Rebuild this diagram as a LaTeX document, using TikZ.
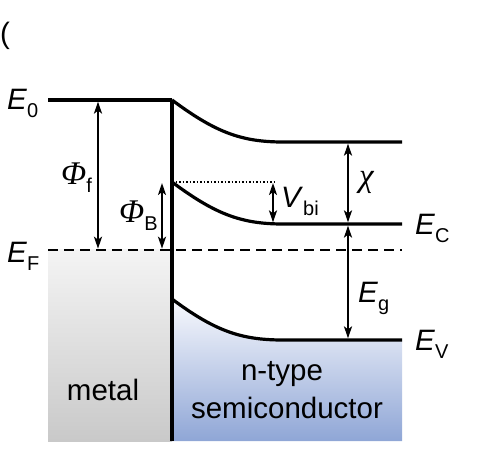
\documentclass[tikz,border=0pt]{standalone}
\usepackage{fontspec}
\setmainfont{Liberation Sans}
\newfontfamily\greekserif[Scale=1.12]{Liberation Serif}
\usetikzlibrary{arrows.meta,positioning}

\definecolor{metaltop}{HTML}{F4F4F4}
\definecolor{metalbot}{HTML}{C9C9C9}
\definecolor{semitop}{HTML}{F8F9FD}
\definecolor{semibot}{HTML}{8FA6D6}

\newcommand{\grk}[1]{{\greekserif\itshape #1}}
\newcommand{\enlev}[2]{#1\raisebox{-8pt}{\fontsize{20}{20}\selectfont #2}}

\begin{document}
\begin{tikzpicture}[
    x=1pt, y=-1pt,
    band/.style={line width=3.2pt},
    fermi/.style={line width=2.5pt, dash pattern=on 10pt off 6pt},
    refline/.style={line width=1.5pt, dash pattern=on 1.5pt off 2pt},
    gap/.style={{Stealth[length=12pt,width=8pt,inset=3pt]}-{Stealth[length=12pt,width=8pt,inset=3pt]}, line width=2pt},
    lvltext/.style={inner sep=0pt, font=\fontsize{29.5}{34}\selectfont}
]
\useasboundingbox (0,0) rectangle (477,465);

% Interface points
\coordinate (vac0) at (172,100);
\coordinate (cb0) at (172,182);
\coordinate (vb0) at (172,299);
\coordinate (base) at (172,441);

% Metal and semiconductor fills
\shade[top color=metaltop, bottom color=metalbot] (48,250) rectangle (base);
\shade[top color=semitop, bottom color=semibot] (vb0) .. controls +(43,32) and +(-42,0) .. (283,340) -- (402,340) -- (402,441) -- (base) -- cycle;

% Energy levels
\draw[band] (48,100) -- (vac0);
\draw[band] (vac0) -- (base);
\draw[band] (vac0) .. controls +(43,32) and +(-42,0) .. (283,142) -- (402,142);
\draw[band] (cb0) .. controls +(43,32) and +(-42,0) .. (283,224) -- (402,224);
\draw[band] (vb0) .. controls +(43,32) and +(-42,0) .. (283,340) -- (402,340);
\draw[fermi] (48,250) -- (402,250);
\draw[refline] (cb0) -- (275,182);

% Gap arrows
\foreach \n/\x/\ya/\yb in {phif/98/101.6/248.7, phib/162/183/248.7, vbi/273/183/222.4, chi/348/143.6/222.4, eg/348/225.6/338.4} {
    \coordinate (\n-a) at (\x,\ya);
    \coordinate (\n-b) at (\x,\yb);
}
\draw[gap] (phif-a) -- (phif-b);
\draw[gap] (phib-a) -- (phib-b);
\draw[gap] (vbi-a) -- (vbi-b);
\draw[gap] (chi-a) -- (chi-b);
\draw[gap] (eg-a) -- (eg-b);

% Labels
\node[lvltext, anchor=base west] (tag) at (0,44) {(};
\node[lvltext, anchor=base west] (E0) at (7,110) {\enlev{\textit{E}}{0}};
\node[lvltext, anchor=base west] (EF) at (7,263) {\enlev{\textit{E}}{F}};
\node[lvltext, anchor=base west] (phif) at (61,185) {\enlev{\grk{Φ}}{f}};
\node[lvltext, anchor=base west] (phib) at (119,223) {\enlev{\grk{Φ}}{B}};
\node[lvltext, anchor=base west] (vbi) at (281,208) {\enlev{\textit{V}}{bi}};
\node[lvltext, anchor=base west] (chi) at (359,187) {\grk{χ}};
\node[lvltext, anchor=base west] (EC) at (415,235) {\enlev{\textit{E}}{C}};
\node[lvltext, anchor=base west] (Eg) at (358,303) {\enlev{\textit{E}}{g}};
\node[lvltext, anchor=base west] (EV) at (415,351) {\enlev{\textit{E}}{V}};
\node[lvltext, anchor=base] (metal) at (103,400) {metal};
\node[lvltext, anchor=base] (ntype) at (282,381) {n-type};
\node[lvltext, anchor=base] (semi) at (287,418) {semiconductor};

\end{tikzpicture}
\end{document}
